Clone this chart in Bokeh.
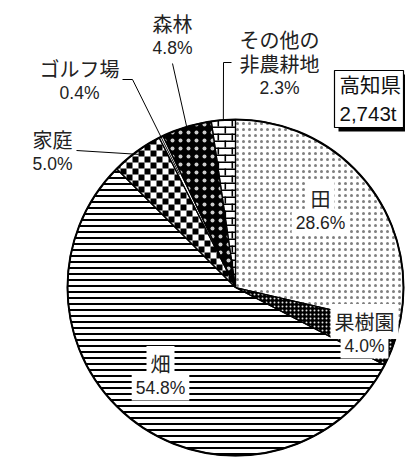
import math
from bokeh.plotting import figure
from bokeh.models import ColumnDataSource, Range1d
from bokeh.core.properties import value
from bokeh.embed import file_html
from bokeh.resources import INLINE

# ---------------- data ----------------
categories = ["田", "果樹園", "畑", "家庭", "ゴルフ場", "森林", "その他の\n非農耕地"]
shares = [28.6, 4.0, 54.8, 5.0, 0.4, 4.8, 2.3]
pct_labels = ["28.6%", "4.0%", "54.8%", "5.0%", "0.4%", "4.8%", "2.3%"]
total_lines = ["高知県", "2,743t"]

# ---------------- styles ----------------
styles = [
    dict(fill_color="white", hatch_pattern="dot", hatch_color="black", hatch_scale=6, hatch_alpha=0.5),
    dict(fill_color="black", hatch_pattern="dot", hatch_color="white", hatch_scale=4, hatch_alpha=0.9),
    dict(fill_color="white", hatch_pattern="horizontal_line", hatch_color="black", hatch_scale=6, hatch_weight=2),
    dict(fill_color="white"),   # checker drawn below
    dict(fill_color="white"),
    dict(fill_color="black", hatch_pattern="dot", hatch_color="white", hatch_scale=8, hatch_alpha=0.8),
    dict(fill_color="white"),   # brick drawn below
]
CHECK = 6          # checker square size (px)
BRICK_W, BRICK_H, BRICK_T = 14, 7, 1.6

# ---------------- layout (screen pixels) ----------------
W, H = 405, 459
CX, CY, R = 235, 287, 168

inside_pos = {0: (320, 210), 1: (364, 333), 2: (160, 375)}
outside_pos = {5: (172, 35), 6: (279, 63), 4: (79, 80), 3: (52, 151)}
leaders = {
    5: ([(172, 63)], 0.99),
    6: ([(231, 62), (223, 62)], 1.0),
    4: ([(122, 79), (132, 79)], 0.75),
    3: ([(76, 150)], 0.98),
}
BOX = (334, 70, 403, 127)      # left, top, right, bottom
SHADOW = 4
CJK = "Noto Sans CJK JP"
LAT = "Liberation Sans"
GAP = 24

p = figure(width=W, height=H, output_backend="svg", toolbar_location=None,
           x_range=Range1d(0, W), y_range=Range1d(-H, 0),
           min_border=0, outline_line_color=None)
p.axis.visible = False
p.grid.visible = False

# ---------------- geometry helpers for custom fill patterns ----------------
def cross(ax, ay, bx, by):
    return ax * by - ay * bx

def clip(subject, clipper):
    out = subject
    n = len(clipper)
    for k in range(n):
        ax, ay = clipper[k]
        bx, by = clipper[(k + 1) % n]
        nx, ny = bx - ax, by - ay
        inp, out = out, []
        if not inp:
            break
        def inside(q):
            return cross(nx, ny, q[0] - ax, q[1] - ay) >= 0
        s = inp[-1]
        for e in inp:
            def inter():
                dx, dy = e[0] - s[0], e[1] - s[1]
                t = cross(nx, ny, ax - s[0], ay - s[1]) / cross(nx, ny, dx, dy)
                return (s[0] + t * dx, s[1] + t * dy)
            if inside(e):
                if not inside(s):
                    out.append(inter())
                out.append(e)
            elif inside(s):
                out.append(inter())
            s = e
    return out

def wedge_poly(a0, a1, steps=80):
    pts = [(CX, -CY)]
    for k in range(steps + 1):
        a = a0 + (a1 - a0) * k / steps
        pts.append((CX + R * math.cos(a), -CY + R * math.sin(a)))
    return pts

def rect(x0, y0, x1, y1):   # screen pixel rect -> data polygon (ccw)
    return [(x0, -y1), (x1, -y1), (x1, -y0), (x0, -y0)]

def draw_clipped(rects, poly):
    xs, ys = [], []
    for r in rects:
        c = clip(r, poly)
        if len(c) >= 3:
            xs.append([q[0] for q in c]); ys.append([q[1] for q in c])
    if xs:
        p.patches(xs, ys, fill_color="black", line_color=None)

def bbox(poly):
    px = [q[0] for q in poly]; py = [-q[1] for q in poly]
    return int(min(px)) - 2, int(min(py)) - 2, int(max(px)) + 2, int(max(py)) + 2

def checker_rects(poly):
    x0, y0, x1, y1 = bbox(poly)
    out = []
    for iy in range(y0 // CHECK, y1 // CHECK + 1):
        for ix in range(x0 // CHECK, x1 // CHECK + 1):
            if (ix + iy) % 2 == 0:
                out.append(rect(ix * CHECK, iy * CHECK, (ix + 1) * CHECK, (iy + 1) * CHECK))
    return out

def brick_rects(poly):
    x0, y0, x1, y1 = bbox(poly)
    out = []
    for k in range(y0 // BRICK_H, y1 // BRICK_H + 1):
        yt = k * BRICK_H
        out.append(rect(x0, yt, x1, yt + BRICK_T))
        off = (k % 2) * (BRICK_W // 2)
        for j in range(x0 // BRICK_W - 1, x1 // BRICK_W + 2):
            xv = j * BRICK_W + off
            out.append(rect(xv, yt, xv + BRICK_T, yt + BRICK_H))
    return out

custom = {3: checker_rects, 6: brick_rects}

# ---------------- pie ----------------
tot = sum(shares)
cum = 0.0
mids, angs = [], []
for i, s in enumerate(shares):
    f0 = cum / tot
    cum += s
    f1 = cum / tot
    mids.append((f0 + f1) / 2)
    angs.append((math.pi / 2 - 2 * math.pi * f1, math.pi / 2 - 2 * math.pi * f0))

src = ColumnDataSource(dict(x=[CX] * len(shares), y=[-CY] * len(shares),
                            sa=[a[0] for a in angs], ea=[a[1] for a in angs],
                            cat=categories, v=shares))
for i in range(len(shares)):
    st = ColumnDataSource(dict(x=[CX], y=[-CY], sa=[angs[i][0]], ea=[angs[i][1]]))
    p.wedge(x="x", y="y", radius=R, start_angle="sa", end_angle="ea", direction="anticlock",
            source=st, line_color=None, **styles[i])
    if i in custom:
        poly = wedge_poly(*angs[i])
        draw_clipped(custom[i](poly), poly)

p.wedge(x="x", y="y", radius=R, start_angle="sa", end_angle="ea", direction="anticlock",
        source=src, fill_color=None, line_color="black", line_width=1.2)
p.circle(x=[CX], y=[-CY], radius=R, fill_color=None, line_color="black", line_width=2)

# ---------------- leader lines ----------------
for i, (pts, rf) in leaders.items():
    ang = 2 * math.pi * mids[i]
    ex = CX + R * rf * math.sin(ang)
    ey = CY - R * rf * math.cos(ang)
    xs = [q[0] for q in pts] + [ex]
    ys = [-q[1] for q in pts] + [-ey]
    p.line(xs, ys, line_color="black", line_width=1)

# ---------------- labels (one text per line) ----------------
def label(idx_pos, boxed):
    cjk_x, cjk_y, cjk_t, lat_x, lat_y, lat_t = [], [], [], [], [], []
    for i in idx_pos:
        x, y = idx_pos[i]
        lines = categories[i].split("\n")
        n = len(lines) + 1
        top = y - (n - 1) * GAP / 2
        for k, ln in enumerate(lines):
            cjk_x.append(x); cjk_y.append(-(top + k * GAP)); cjk_t.append(ln)
        lat_x.append(x); lat_y.append(-(top + len(lines) * GAP)); lat_t.append(pct_labels[i])
    extra = dict(background_fill_color="white", padding=(4, 3)) if boxed else {}
    p.text(x=lat_x, y=lat_y, text=lat_t, text_align="center", text_baseline="middle",
           text_font=value(LAT), text_font_size="17.5px", text_color="#222222", **extra)
    p.text(x=cjk_x, y=cjk_y, text=cjk_t, text_align="center", text_baseline="middle",
           text_font=value(CJK), text_font_size="20px", text_color="#222222", **extra)

label(inside_pos, True)
label(outside_pos, False)

# ---------------- total box with drop shadow ----------------
bl, bt, br, bb = BOX
p.quad(left=[bl + SHADOW], right=[br + SHADOW], top=[-(bt + SHADOW)], bottom=[-(bb + SHADOW)],
       fill_color="black", line_color=None)
p.quad(left=[bl], right=[br], top=[-bt], bottom=[-bb],
       fill_color="white", line_color="black", line_width=1.2)
p.text(x=[bl + 5] * 2, y=[-85, -113], text=total_lines, text_align="left", text_baseline="middle",
       text_font=value(LAT + ", " + CJK), text_font_size="20.5px", text_color="#111111")

open("out.html", "w").write(file_html(p, INLINE))
